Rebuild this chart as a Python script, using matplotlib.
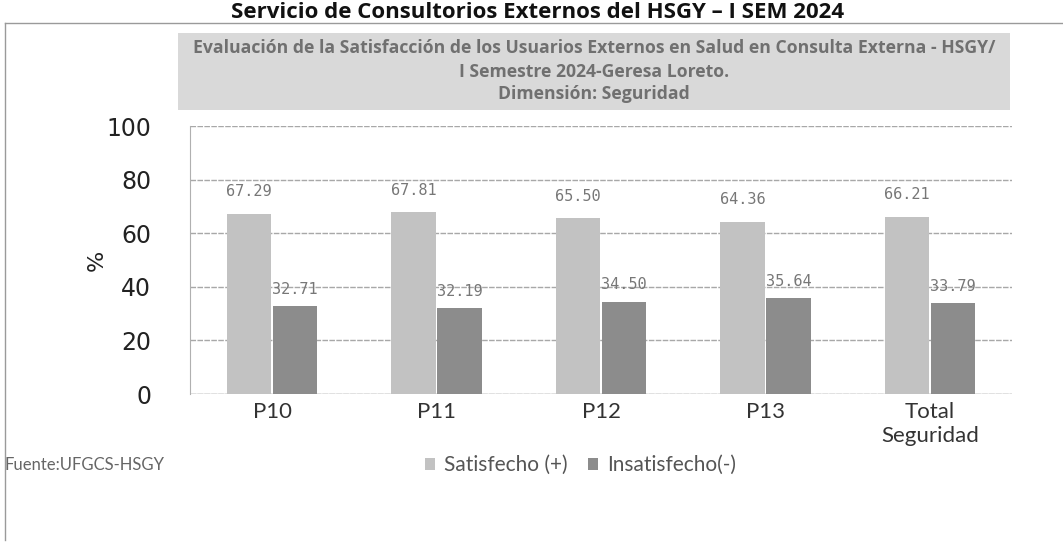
import numpy as np
import matplotlib.pyplot as plt
from matplotlib.patches import Rectangle
from matplotlib.lines import Line2D

# data
categories = ['P10', 'P11', 'P12', 'P13', 'Total\nSeguridad']
satisfecho = [67.29, 67.81, 65.50, 64.36, 66.21]
insatisfecho = [32.71, 32.19, 34.50, 35.64, 33.79]
yticks = [0, 20, 40, 60, 80, 100]

col_sat = '#c2c2c2'
col_ins = '#8c8c8c'

fig = plt.figure(figsize=(10.63, 5.43), dpi=100)
ax = fig.add_axes([190 / 1063, 1 - 394 / 543, 822 / 1063, 268 / 543])

x = np.arange(len(categories))
w = 0.27
b1 = ax.bar(x - 0.14, satisfecho, w, color=col_sat, label='Satisfecho (+)', zorder=3)
b2 = ax.bar(x + 0.14, insatisfecho, w, color=col_ins, label='Insatisfecho(-)', zorder=3)

# data labels
for xi, v in zip(x, satisfecho):
    ax.annotate('%.2f' % v, (xi - 0.14, v), xytext=(0, 16), textcoords='offset points',
                ha='center', va='center', fontsize=11, color='#777777', family='DejaVu Sans Mono')
for xi, v in zip(x, insatisfecho):
    ax.annotate('%.2f' % v, (xi + 0.14, v), xytext=(0, 12), textcoords='offset points',
                ha='center', va='center', fontsize=11, color='#777777', family='DejaVu Sans Mono')

ax.set_xlim(-0.5, len(categories) - 0.5)
ax.set_ylim(0, 100)
ax.set_yticks(yticks)
ax.yaxis.grid(True, color='#a8a8a8', linestyle=(0, (4, 1)), linewidth=1, zorder=0)
ax.set_xticks(x)
ax.set_xticklabels(categories, family='Lato', fontsize=16, color='#333333', linespacing=1.25)
ax.tick_params(axis='x', length=0, pad=6)
ax.tick_params(axis='y', length=0, pad=28, labelsize=17, labelcolor='#222222')
for s in ['top', 'right', 'bottom']:
    ax.spines[s].set_visible(False)
ax.spines['left'].set_color('#b0b0b0')
ax.axhline(0, color='#b0b0b0', linewidth=1, zorder=2)
ax.set_ylabel('%', fontsize=16, color='#222222')
ax.yaxis.set_label_coords(-83 / 822, 0.5)

# title box
fig.patches.append(Rectangle((178 / 1063, 1 - 110 / 543), 832 / 1063, 77 / 543,
                             transform=fig.transFigure, facecolor='#d9d9d9', edgecolor='none'))
tkw = dict(ha='center', va='center', family='Open Sans', fontweight='bold', fontsize=12.7, color='#707070')
fig.text(594 / 1063, 1 - 48 / 543,
         'Evaluación de la Satisfacción de los Usuarios Externos en Salud en Consulta Externa - HSGY/', **tkw)
fig.text(594 / 1063, 1 - 72 / 543, 'I Semestre 2024-Geresa Loreto.', **tkw)
fig.text(594 / 1063, 1 - 94 / 543, 'Dimensión: Seguridad', **tkw)

# top title
fig.text(538 / 1063, 1 - 18 / 543, 'Servicio de Consultorios Externos del HSGY – I SEM 2024',
         ha='center', va='baseline', family='Open Sans', fontweight='bold', fontsize=16, color='#111111')

# frame lines
fig.add_artist(Line2D([5 / 1063, 1], [1 - 23 / 543, 1 - 23 / 543], color='#9a9a9a', linewidth=1))
fig.add_artist(Line2D([5 / 1063, 5 / 1063], [1 - 23 / 543, 1 - 540 / 543], color='#9a9a9a', linewidth=1))

# footer
fig.text(5 / 1063, 1 - 465 / 543, 'Fuente:UFGCS-HSGY', ha='left', va='center',
         family='Lato', fontsize=12, color='#666666')
fig.legend(handles=[b1, b2], loc='center left', bbox_to_anchor=(406 / 1063, 1 - 465 / 543),
           ncol=2, frameon=False, handlelength=0.5, handleheight=0.5, handletextpad=0.4,
           columnspacing=1.0, prop={'family': 'Lato', 'size': 15}, labelcolor='#555555')

plt.savefig('out.png', dpi=100)
